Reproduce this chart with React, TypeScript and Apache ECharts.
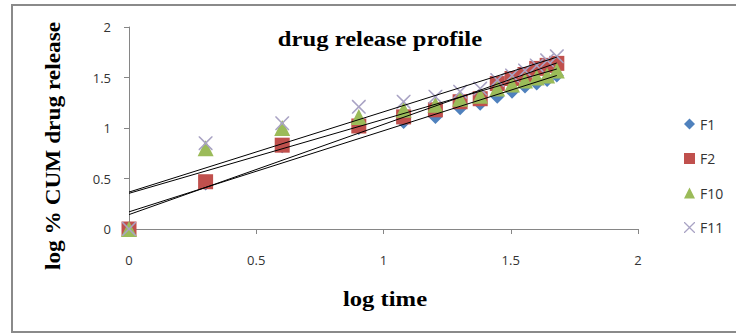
import React, { useEffect, useRef } from "react";
import * as echarts from "echarts";

const logTime = [0, 0.301, 0.602, 0.903, 1.079, 1.204, 1.301, 1.380, 1.447, 1.505, 1.556, 1.602, 1.643, 1.681];
const seriesNames = ["F1", "F2", "F10", "F11"];
const F1 = [0, 0.45, 0.82, 1.0, 1.06, 1.11, 1.195, 1.24, 1.31, 1.36, 1.41, 1.44, 1.475, 1.52];
const F2 = [0, 0.468, 0.83, 1.02, 1.11, 1.18, 1.26, 1.29, 1.44, 1.49, 1.53, 1.59, 1.62, 1.64];
const F10 = [0, 0.8, 1.0, 1.11, 1.18, 1.23, 1.29, 1.32, 1.39, 1.43, 1.47, 1.5, 1.52, 1.57];
const F11 = [0, 0.85, 1.047, 1.21, 1.26, 1.31, 1.36, 1.39, 1.475, 1.52, 1.57, 1.62, 1.67, 1.71];
const xTicks = [0, 0.5, 1, 1.5, 2];
const yTicks = [0, 0.5, 1, 1.5, 2];

const colors = ["#4F81BD", "#C0504D", "#9BBB59", "#A9A3C4"];
const symbols = [
  "diamond",
  "rect",
  "triangle",
  "path://M0,0 L0.8,0 L5,4.2 L9.2,0 L10,0 L10,0.8 L5.8,5 L10,9.2 L10,10 L9.2,10 L5,5.8 L0.8,10 L0,10 L0,9.2 L4.2,5 L0,0.8 Z",
];
const symbolSizes = [14, 15, 16, 14];

function fit(xs: number[], ys: number[]) {
  const n = xs.length;
  const mx = xs.reduce((a, b) => a + b, 0) / n;
  const my = ys.reduce((a, b) => a + b, 0) / n;
  let sxy = 0;
  let sxx = 0;
  for (let i = 0; i < n; i++) {
    sxy += (xs[i] - mx) * (ys[i] - my);
    sxx += (xs[i] - mx) * (xs[i] - mx);
  }
  const slope = sxy / sxx;
  return { slope, intercept: my - slope * mx };
}

export default function App() {
  const ref = useRef<HTMLDivElement>(null);
  useEffect(() => {
    if (!ref.current) return;
    const chart = echarts.init(ref.current, null, { renderer: "svg" });
    const all = [F1, F2, F10, F11];
    const xMin = Math.min(...logTime);
    const xMax = Math.max(...logTime);
    const scatter = all.map((vals, i) => ({
      name: seriesNames[i],
      type: "scatter",
      symbol: symbols[i],
      symbolSize: symbolSizes[i],
      itemStyle: { color: colors[i], opacity: 1 },
      z: 2,
      data: logTime.map((x, j) => [x, vals[j]]),
    }));
    const trends = all.map((vals, i) => {
      const { slope, intercept } = fit(logTime, vals);
      return {
        name: seriesNames[i] + " trend",
        type: "line",
        symbol: "none",
        silent: true,
        z: 3,
        lineStyle: { color: "#000", width: 1 },
        data: [
          [xMin, intercept + slope * xMin],
          [xMax, intercept + slope * xMax],
        ],
      };
    });
    const axisLabelFont = { fontFamily: "Open Sans", fontSize: 13, color: "#333" };
    chart.setOption({
      animation: false,
      backgroundColor: "#fff",
      grid: { left: 129, right: 98, top: 27, bottom: 105 },
      xAxis: {
        type: "value",
        min: xTicks[0],
        max: xTicks[xTicks.length - 1],
        interval: xTicks[1] - xTicks[0],
        splitLine: { show: false },
        axisLine: { lineStyle: { color: "#868686" } },
        axisTick: { show: true, length: 5, lineStyle: { color: "#868686" } },
        axisLabel: { ...axisLabelFont, margin: 24 },
      },
      yAxis: {
        type: "value",
        min: yTicks[0],
        max: yTicks[yTicks.length - 1],
        interval: yTicks[1] - yTicks[0],
        splitLine: { show: false },
        axisLine: { show: true, lineStyle: { color: "#868686" } },
        axisTick: { show: true, length: 5, lineStyle: { color: "#868686" } },
        axisLabel: { ...axisLabelFont, margin: 18 },
      },
      legend: {
        data: seriesNames.map((n, i) => ({ name: n, icon: symbols[i] })),
        orient: "vertical",
        left: 679,
        top: 112,
        itemWidth: 11,
        itemHeight: 11,
        itemGap: 20.5,
        textStyle: { fontFamily: "Open Sans", fontSize: 14, color: "#333" },
      },
      graphic: [
        {
          type: "rect",
          shape: { x: 12, y: 5, width: 740, height: 327 },
          style: { fill: "none", stroke: "#8a8a8a", lineWidth: 2 },
          silent: true,
        },
        {
          type: "text",
          x: 380,
          y: 38,
          scaleX: 1.12,
          style: {
            text: "drug release profile",
            font: "bold 22px 'Liberation Serif'",
            fill: "#000",
            align: "center",
            verticalAlign: "middle",
          },
        },
        {
          type: "text",
          x: 385,
          y: 298,
          scaleX: 1.12,
          style: {
            text: "log time",
            font: "bold 22px 'Liberation Serif'",
            fill: "#000",
            align: "center",
            verticalAlign: "middle",
          },
        },
        {
          type: "text",
          x: 53,
          y: 146,
          rotation: Math.PI / 2,
          scaleX: 1.06,
          style: {
            text: "log % CUM drug release",
            font: "bold 22px 'Liberation Serif'",
            fill: "#000",
            align: "center",
            verticalAlign: "middle",
          },
        },
      ],
      series: [...scatter, ...trends],
    });
    return () => chart.dispose();
  }, []);
  return (
    <div
      ref={ref}
      style={{ position: "absolute", left: 0, top: 0, width: 736, height: 334, background: "#fff" }}
    />
  );
}
